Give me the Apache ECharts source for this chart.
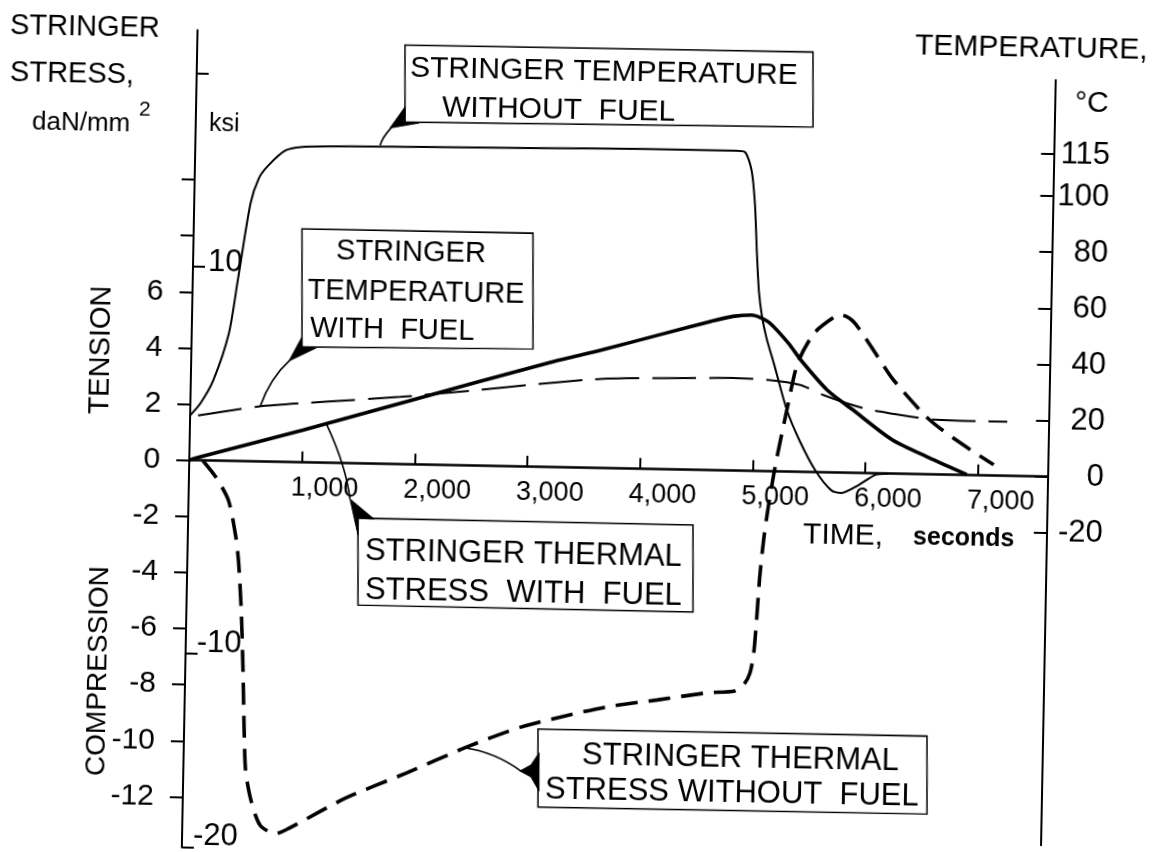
<!DOCTYPE html>
<html><head><meta charset="utf-8">
<script src="https://cdn.jsdelivr.net/npm/echarts@6/dist/echarts.min.js"></script>
<style>
html,body{margin:0;padding:0;background:#fff;overflow:hidden;width:1156px;height:852px;}
#c{position:absolute;left:-24px;top:-24px;width:1204px;height:900px;transform:rotate(1.1deg);transform-origin:50% 50%;}
</style></head><body><div id="c"></div>
<script>
// ---------- data ----------
const timeTicks = [1000, 2000, 3000, 4000, 5000, 6000, 7000];
const stressTicks = [-12, -10, -8, -6, -4, -2, 0, 2, 4, 6, 8, 10];
const stressLabels = [-12, -10, -8, -6, -4, -2, 0, 2, 4, 6];
const ksiTicks = [-20, -10, 10, 20];
const ksiLabels = [-20, -10, 10];
const tempTicks = [-20, 0, 20, 40, 60, 80, 100, 115];

// [time s, temperature °C]
const tempNoFuel = [[0,16],[90,20.4],[200,28.7],[330,45.5],[400,64.5],[500,92],[570,101],[650,105.5],[800,111],[975,112.5],[2000,113.2],[3000,113.6],[4000,114],[4800,114],[4880,113.5],[4940,107],[4975,95],[5000,78],[5025,64],[5055,55.5],[5100,47.5],[5168,38.7],[5293,22],[5408,11.4],[5558,0.5],[5700,-6.3],[5790,-7.2],[5940,-4.3],[6090,-0.5],[6200,0]];
const tempWithFuel = [[70,16],[600,19.6],[1200,21.8],[1860,24],[2500,26.8],[3190,30],[3640,31.8],[4300,32.6],[4800,33],[5115,32.6],[5408,31],[5612,27.6],[5966,23.2],[6250,21.3],[6410,20.4],[6590,19.6],[7000,19.3],[7250,19.3]];
// [time s, stress daN/mm2]
const stressWithFuel = [[0,0],[100,0.13],[1000,1.15],[1900,2.22],[3200,3.75],[3640,4.21],[4200,4.85],[4600,5.3],[4800,5.5],[4965,5.56],[5115,5.32],[5293,4.59],[5408,3.99],[5647,2.94],[5878,2.25],[6232,1.21],[6560,0.6],[6900,0.02]];
const stressNoFuel = [[120,0],[240,-0.59],[355,-1.41],[426,-2.7],[455,-3.6],[488,-5.4],[514,-7.6],[532,-9.5],[552,-11.0],[594,-11.9],[647,-12.6],[700,-13.0],[824,-13.25],[949,-13.04],[1445,-11.93],[1977,-11.0],[2509,-10.03],[2988,-9.28],[3342,-8.89],[3750,-8.5],[4193,-8.22],[4637,-7.93],[4876,-7.85],[4960,-7.6],[5010,-7.2],[5040,-6.5],[5060,-5.3],[5080,-3.8],[5110,-2.4],[5150,-1.1],[5204,0.3],[5293,2.2],[5381,3.88],[5523,4.96],[5700,5.55],[5762,5.62],[5878,5.35],[6090,4.16],[6232,3.35],[6560,1.95],[6888,1.01],[7137,0.39]];

// ---------- layout ----------
const P = 24;                       // container margin (room for rotation)
const FONT = 'Liberation Sans';
const KSI = 0.6894757;              // daN/mm2 per ksi
const T_MAX = 7620;
const S_MAX = 15.33, S_MIN = -20 * KSI;
const PX_S = 28.06;                 // px per daN/mm2
const Y0 = 467.7 + P;               // zero line
const X_L = 190 + P, X_W = 858.8;
const TEMP_MAX = 141.4, TEMP_MIN = -131.3;

const TH = 1.1 * Math.PI / 180, CS = Math.cos(TH), SN = Math.sin(TH);
function R(x, y) { const dx = x - 578, dy = y - 426; return [578 + dx * CS + dy * SN + P, 426 - dx * SN + dy * CS + P]; }
function commas(v) { return String(v).replace(/\B(?=(\d{3})+(?!\d))/g, ','); }

const chart = echarts.init(document.getElementById('c'), null, {renderer: 'canvas'});

const tickStyle = {color: '#000', width: 2};

chart.setOption({
  animation: false,
  backgroundColor: '#fff',
  grid: [
    {left: X_L, top: Y0 - S_MAX * PX_S, width: X_W, height: (S_MAX - S_MIN) * PX_S, containLabel: false, outerBoundsMode: 'none'},
    {left: X_L, top: Y0 - TEMP_MAX * PX_S / 10, width: X_W, height: (TEMP_MAX - TEMP_MIN) * PX_S / 10, containLabel: false, outerBoundsMode: 'none'},
    {left: X_L, top: Y0 - 100, width: X_W, height: 100, containLabel: false, outerBoundsMode: 'none'}
  ],
  xAxis: [
    {type: 'value', gridIndex: 0, min: 0, max: T_MAX, position: 'bottom',
     axisLine: {show: true, onZero: true, onZeroAxisIndex: 0, lineStyle: {color: '#000', width: 2.6}},
     axisTick: {show: true, inside: true, length: 11, customValues: timeTicks, lineStyle: tickStyle},
     axisLabel: {show: false},
     splitLine: {show: false}},
    {type: 'value', gridIndex: 1, min: 0, max: T_MAX, show: false, splitLine: {show: false}},
    // time tick labels, laid along the zero line
    {type: 'value', gridIndex: 2, min: 0, max: T_MAX, position: 'bottom',
     axisLine: {show: false, onZero: false}, axisTick: {show: false}, splitLine: {show: false},
     axisLabel: {show: true, customValues: timeTicks, margin: 12, fontSize: 27, fontFamily: FONT, color: '#000',
                 align: 'center', padding: [0, 0, 0, 46], formatter: v => commas(v)}}
  ],
  yAxis: [
    {type: 'value', gridIndex: 0, position: 'left', min: S_MIN, max: S_MAX,
     axisLine: {show: true, onZero: false, lineStyle: {color: '#000', width: 2}},
     axisTick: {show: true, inside: false, length: 13, customValues: stressTicks, lineStyle: tickStyle},
     axisLabel: {show: true, customValues: stressLabels, margin: 29, fontSize: 30, fontFamily: FONT, color: '#000'},
     splitLine: {show: false}},
    {type: 'value', gridIndex: 0, position: 'left', min: -20, max: S_MAX / KSI,
     axisLine: {show: false, onZero: false},
     axisTick: {show: true, inside: true, length: 12, customValues: ksiTicks, lineStyle: tickStyle},
     axisLabel: {show: true, inside: true, customValues: ksiLabels, margin: 11, color: '#000',
                 formatter: v => v === 10 ? '{a|10}' : '{b|' + v + '}',
                 rich: {a: {fontSize: 31, fontFamily: FONT, color: '#000', padding: [0, 0, 10, 4]},
                        b: {fontSize: 31, fontFamily: FONT, color: '#000', padding: [0, 0, 22, 0]}}},
     splitLine: {show: false}},
    {type: 'value', gridIndex: 1, position: 'right', min: TEMP_MIN, max: TEMP_MAX,
     axisLine: {show: true, onZero: false, lineStyle: {color: '#000', width: 2}},
     axisTick: {show: true, inside: true, length: 13, customValues: tempTicks, lineStyle: tickStyle},
     axisLabel: {show: true, customValues: tempTicks, margin: 56, align: 'right', fontSize: 31, fontFamily: FONT, color: '#000'},
     splitLine: {show: false}},
    {type: 'value', gridIndex: 2, min: 0, max: 1, show: false, splitLine: {show: false}}
  ],
  series: [
    {name: 'Stringer thermal stress with fuel', type: 'line', xAxisIndex: 0, yAxisIndex: 0, data: stressWithFuel,
     showSymbol: false, smooth: 0.25, lineStyle: {color: '#000', width: 3.6}},
    {name: 'Stringer thermal stress without fuel', type: 'line', xAxisIndex: 0, yAxisIndex: 0, data: stressNoFuel,
     showSymbol: false, smooth: 0.25, lineStyle: {color: '#000', width: 3.6, type: [22, 11]}},
    {name: 'Stringer temperature without fuel', type: 'line', xAxisIndex: 1, yAxisIndex: 2, data: tempNoFuel,
     showSymbol: false, smooth: 0.25, lineStyle: {color: '#000', width: 2}},
    {name: 'Stringer temperature with fuel', type: 'line', xAxisIndex: 1, yAxisIndex: 2, data: tempWithFuel,
     showSymbol: false, smooth: 0.25, lineStyle: {color: '#000', width: 2, type: [44, 13]}}
  ]
});

// ---------- annotations ----------
function txt(x, y, s, size, o) {
  o = o || {};
  const p = R(x, y);
  const al = o.align || 'left';
  return {type: 'text', x: p[0], y: p[1], rotation: o.rot || 0, z: 20,
          style: {text: s, fontSize: size, fontFamily: FONT, fontWeight: o.weight || 'normal', fill: '#000',
                  align: al, verticalAlign: 'middle', textAlign: al, textVerticalAlign: 'middle'}};
}
function poly(pts, fill, lw) {
  return {type: 'polygon', z: 15, shape: {points: pts.map(q => R(q[0], q[1]))},
          style: {fill: fill ? '#000' : 'none', stroke: '#000', lineWidth: lw || 1.5}};
}
function leader(startData, axes, cp, tip) {
  const s = chart.convertToPixel(axes, startData);
  const c = R(cp[0], cp[1]), t = R(tip[0], tip[1]);
  return {type: 'bezierCurve', z: 15, shape: {x1: s[0], y1: s[1], cpx1: c[0], cpy1: c[1], x2: t[0], y2: t[1]},
          style: {stroke: '#000', lineWidth: 1.6, fill: 'none'}};
}
const stressAx = {xAxisIndex: 0, yAxisIndex: 0};
const tempAx = {xAxisIndex: 1, yAxisIndex: 2};

const g = [
  txt(10, 26, 'STRINGER', 29),
  txt(10, 73, 'STRESS,', 29),
  txt(32, 122, 'daN/mm', 26),
  txt(139, 110, '2', 21),
  txt(209, 124, 'ksi', 25),
  txt(915, 46, 'TEMPERATURE,', 30),
  txt(1075, 103, '°C', 30),
  txt(101, 350, 'TENSION', 29, {align: 'center', rot: Math.PI / 2}),
  txt(98, 671, 'COMPRESSION', 28, {align: 'center', rot: Math.PI / 2}),
  txt(803, 535, 'TIME,', 30),
  txt(913, 538, 'seconds', 25, {weight: 'bold'}),
  // box 1
  poly([[405,45],[813,52],[813,127],[405,122]]),
  txt(410, 68, 'STRINGER TEMPERATURE', 30),
  txt(442, 108, 'WITHOUT  FUEL', 30),
  poly([[390,128],[405,107],[405,122],[419,123]], true, 1),
  leader([1640, 113.5], tempAx, [382, 138], [391, 128]),
  // box 2
  poly([[302,229],[533,233],[533,349],[302,347]]),
  txt(411, 253, 'STRINGER', 29, {align: 'center'}),
  txt(416, 293, 'TEMPERATURE', 29, {align: 'center'}),
  txt(310, 329, 'WITH  FUEL', 29),
  poly([[289,361],[302,337],[302,347],[316,348]], true, 1),
  leader([620, 19.7], tempAx, [270, 378], [290, 360]),
  // box 3
  poly([[358,518],[693,525],[693,612],[358,605]]),
  txt(365, 551, 'STRINGER THERMAL', 31),
  txt(365, 590, 'STRESS  WITH  FUEL', 31),
  poly([[350,499],[374,519],[358,518],[358,535]], true, 1),
  leader([1215, 1.35], stressAx, [346, 466], [350, 499]),
  // box 4
  poly([[538,729],[927,736],[927,814],[538,807]]),
  txt(582, 756, 'STRINGER THERMAL', 31),
  txt(545, 790, 'STRESS WITHOUT  FUEL', 31),
  poly([[520,771],[531,765],[539,753],[539,791],[531,777]], true, 1),
  leader([2482, -10.05], stressAx, [495, 752], [521, 771])
];
chart.setOption({graphic: {elements: g}});
</script></body></html>
